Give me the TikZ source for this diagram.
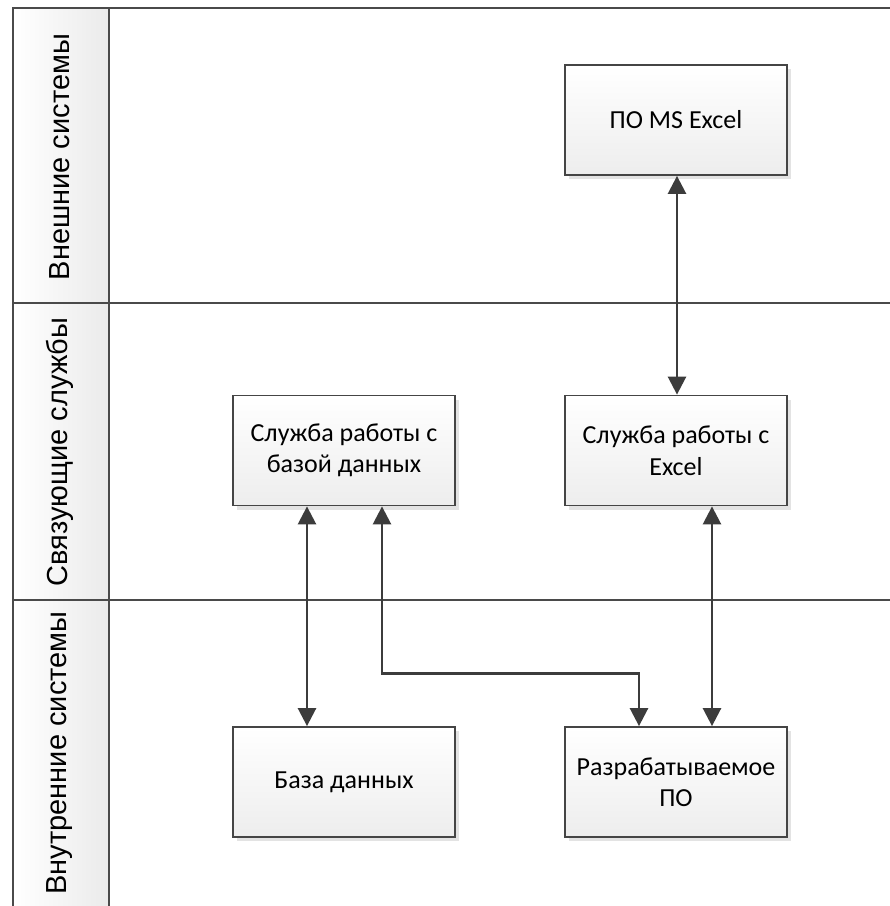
\documentclass[tikz,border=0pt]{standalone}
\usepackage{fontspec}
\setmainfont{Carlito}
\newfontfamily\lanefont{Liberation Sans}
\usetikzlibrary{arrows.meta,shadows}
\definecolor{linec}{HTML}{3C3C3C}
\definecolor{lanec}{HTML}{4A4A4A}
\definecolor{boxc}{HTML}{454545}
\begin{document}
\begin{tikzpicture}[x=1pt,y=-1pt,
  lanetext/.style={font=\lanefont\fontsize{29}{33}\selectfont, rotate=90, text=black},
  procbox/.style={draw=boxc, line width=1.8pt, minimum width=222pt, minimum height=110pt,
    inner sep=0pt, align=center, top color=white, bottom color=gray!14,
    font=\fontsize{26}{31.5}\selectfont,
    drop shadow={shadow xshift=4pt, shadow yshift=-4pt, fill=gray!22, opacity=1}},
  biarrow/.style={draw=linec, line width=2.6pt, {Triangle[width=18pt,length=18pt]}-{Triangle[width=18pt,length=18pt]}}
]
\useasboundingbox (0,0) rectangle (890,906);
\fill[white] (0,0) rectangle (890,906);
% lane header column
\fill[left color=white, right color=gray!16] (13,8) rectangle (109,906);
\draw[lanec, line width=1.9pt] (13,906) -- (13,8) -- (890,8);
\draw[lanec, line width=1.9pt] (109,8) -- (109,906);
\draw[lanec, line width=1.9pt] (13,303) -- (890,303);
\draw[lanec, line width=1.9pt] (13,600) -- (890,600);
\node[lanetext] (l1) at (60,157) {Внешние системы};
\node[lanetext] (l2) at (60,452) {Связующие службы};
\node[lanetext] (l3) at (60,753) {Внутренние системы};
% boxes
\node[procbox] (excel) at (676,120) {ПО MS Excel};
\node[procbox] (dbsvc) at (344,450.5) {Служба работы с\\базой данных};
\node[procbox] (xlsvc) at (676,450.5) {Служба работы с\\Excel};
\node[procbox] (db) at (344,782) {База данных};
\node[procbox] (dev) at (676,782) {Разрабатываемое\\ПО};
% connectors
\draw[biarrow] ([xshift=1pt]excel.south) -- ([xshift=1pt]xlsvc.north);
\draw[biarrow] ([xshift=-37pt]dbsvc.south) -- ([xshift=-37pt]db.north);
\draw[biarrow] ([xshift=38pt]dbsvc.south) -- ++(0,167) -| ([xshift=-37pt]dev.north);
\draw[biarrow] ([xshift=36pt]xlsvc.south) -- ([xshift=36pt]dev.north);
\end{tikzpicture}
\end{document}
